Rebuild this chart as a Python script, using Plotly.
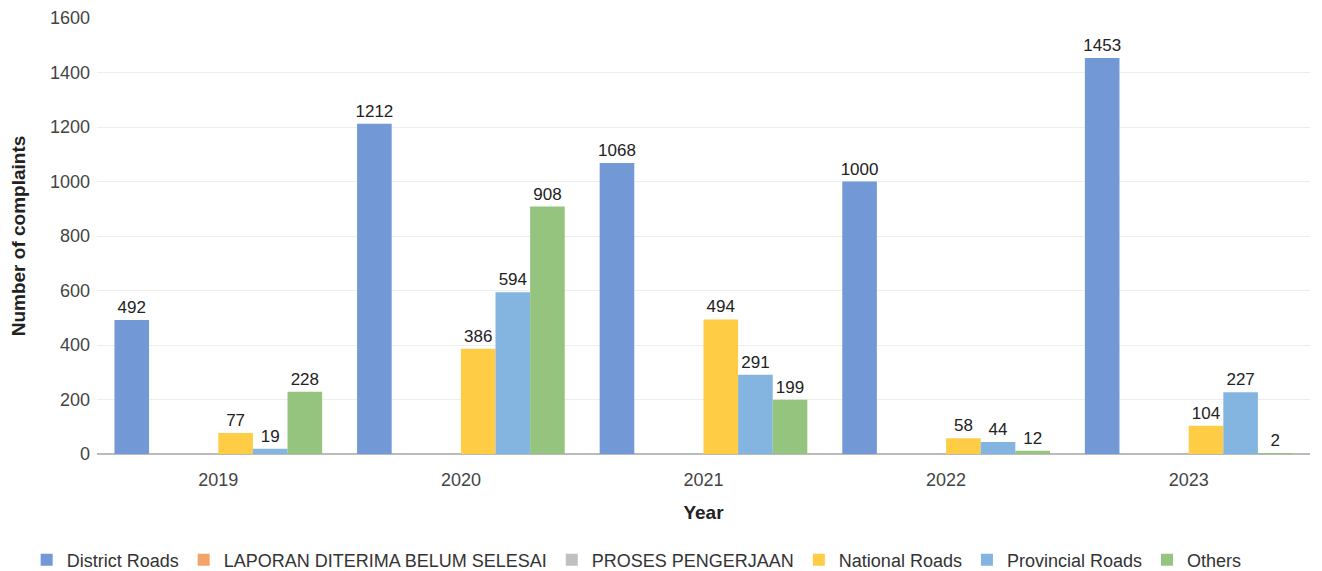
import plotly.graph_objects as go

years = ["2019", "2020", "2021", "2022", "2023"]
series_names = ["District Roads", "LAPORAN DITERIMA BELUM SELESAI", "PROSES PENGERJAAN",
                "National Roads", "Provincial Roads", "Others"]
district = [492, 1212, 1068, 1000, 1453]
laporan = [None, None, None, None, None]
proses = [None, None, None, None, None]
national = [77, 386, 494, 58, 104]
provincial = [19, 594, 291, 44, 227]
others = [228, 908, 199, 12, 2]
colors = ["#7299d5", "#f4a46b", "#c0c0c0", "#fecd45", "#84b4e0", "#95c47e"]
y_ticks = [0, 200, 400, 600, 800, 1000, 1200, 1400, 1600]

FONT = "Liberation Sans, Arial, sans-serif"

fig = go.Figure()
for name, vals, col in zip(series_names, [district, laporan, proses, national, provincial, others], colors):
    fig.add_trace(go.Bar(
        x=years, y=vals, name=name, marker_color=col, marker_line_width=0,
        text=[("" if v is None else str(v)) for v in vals],
        textposition="outside", cliponaxis=False, constraintext="none",
        textfont=dict(family=FONT, size=17, color="#222222"),
    ))

# page body has an 8px margin: figure is sized/offset to compensate
fig.update_layout(
    width=1314, height=563,
    margin=dict(l=89, r=12, t=10, b=117, autoexpand=False),
    barmode="group", bargap=0.144, bargroupgap=0,
    plot_bgcolor="white", paper_bgcolor="white",
    font=dict(family=FONT, size=17, color="#333333"),
    legend=dict(orientation="h", x=-0.058, xanchor="left", y=-0.243, yanchor="middle",
                font=dict(size=18, color="#333333"), itemwidth=30, traceorder="normal"),
    xaxis=dict(title=dict(text="<b>Year</b>", font=dict(size=19, color="#222222"), standoff=16),
               showgrid=False, ticks="", ticklabelstandoff=13, automargin=False,
               tickfont=dict(size=18, color="#444444")),
    yaxis=dict(title=dict(text="<b>Number of complaints</b>", font=dict(size=19, color="#222222"), standoff=33),
               range=[0, 1600], tickvals=y_ticks, showgrid=True, gridcolor="#eeeeee",
               zeroline=True, zerolinecolor="#bbbbbb", zerolinewidth=2, automargin=False,
               ticklabelstandoff=6, tickfont=dict(size=18, color="#444444")),
)
fig.write_html("out.html")
